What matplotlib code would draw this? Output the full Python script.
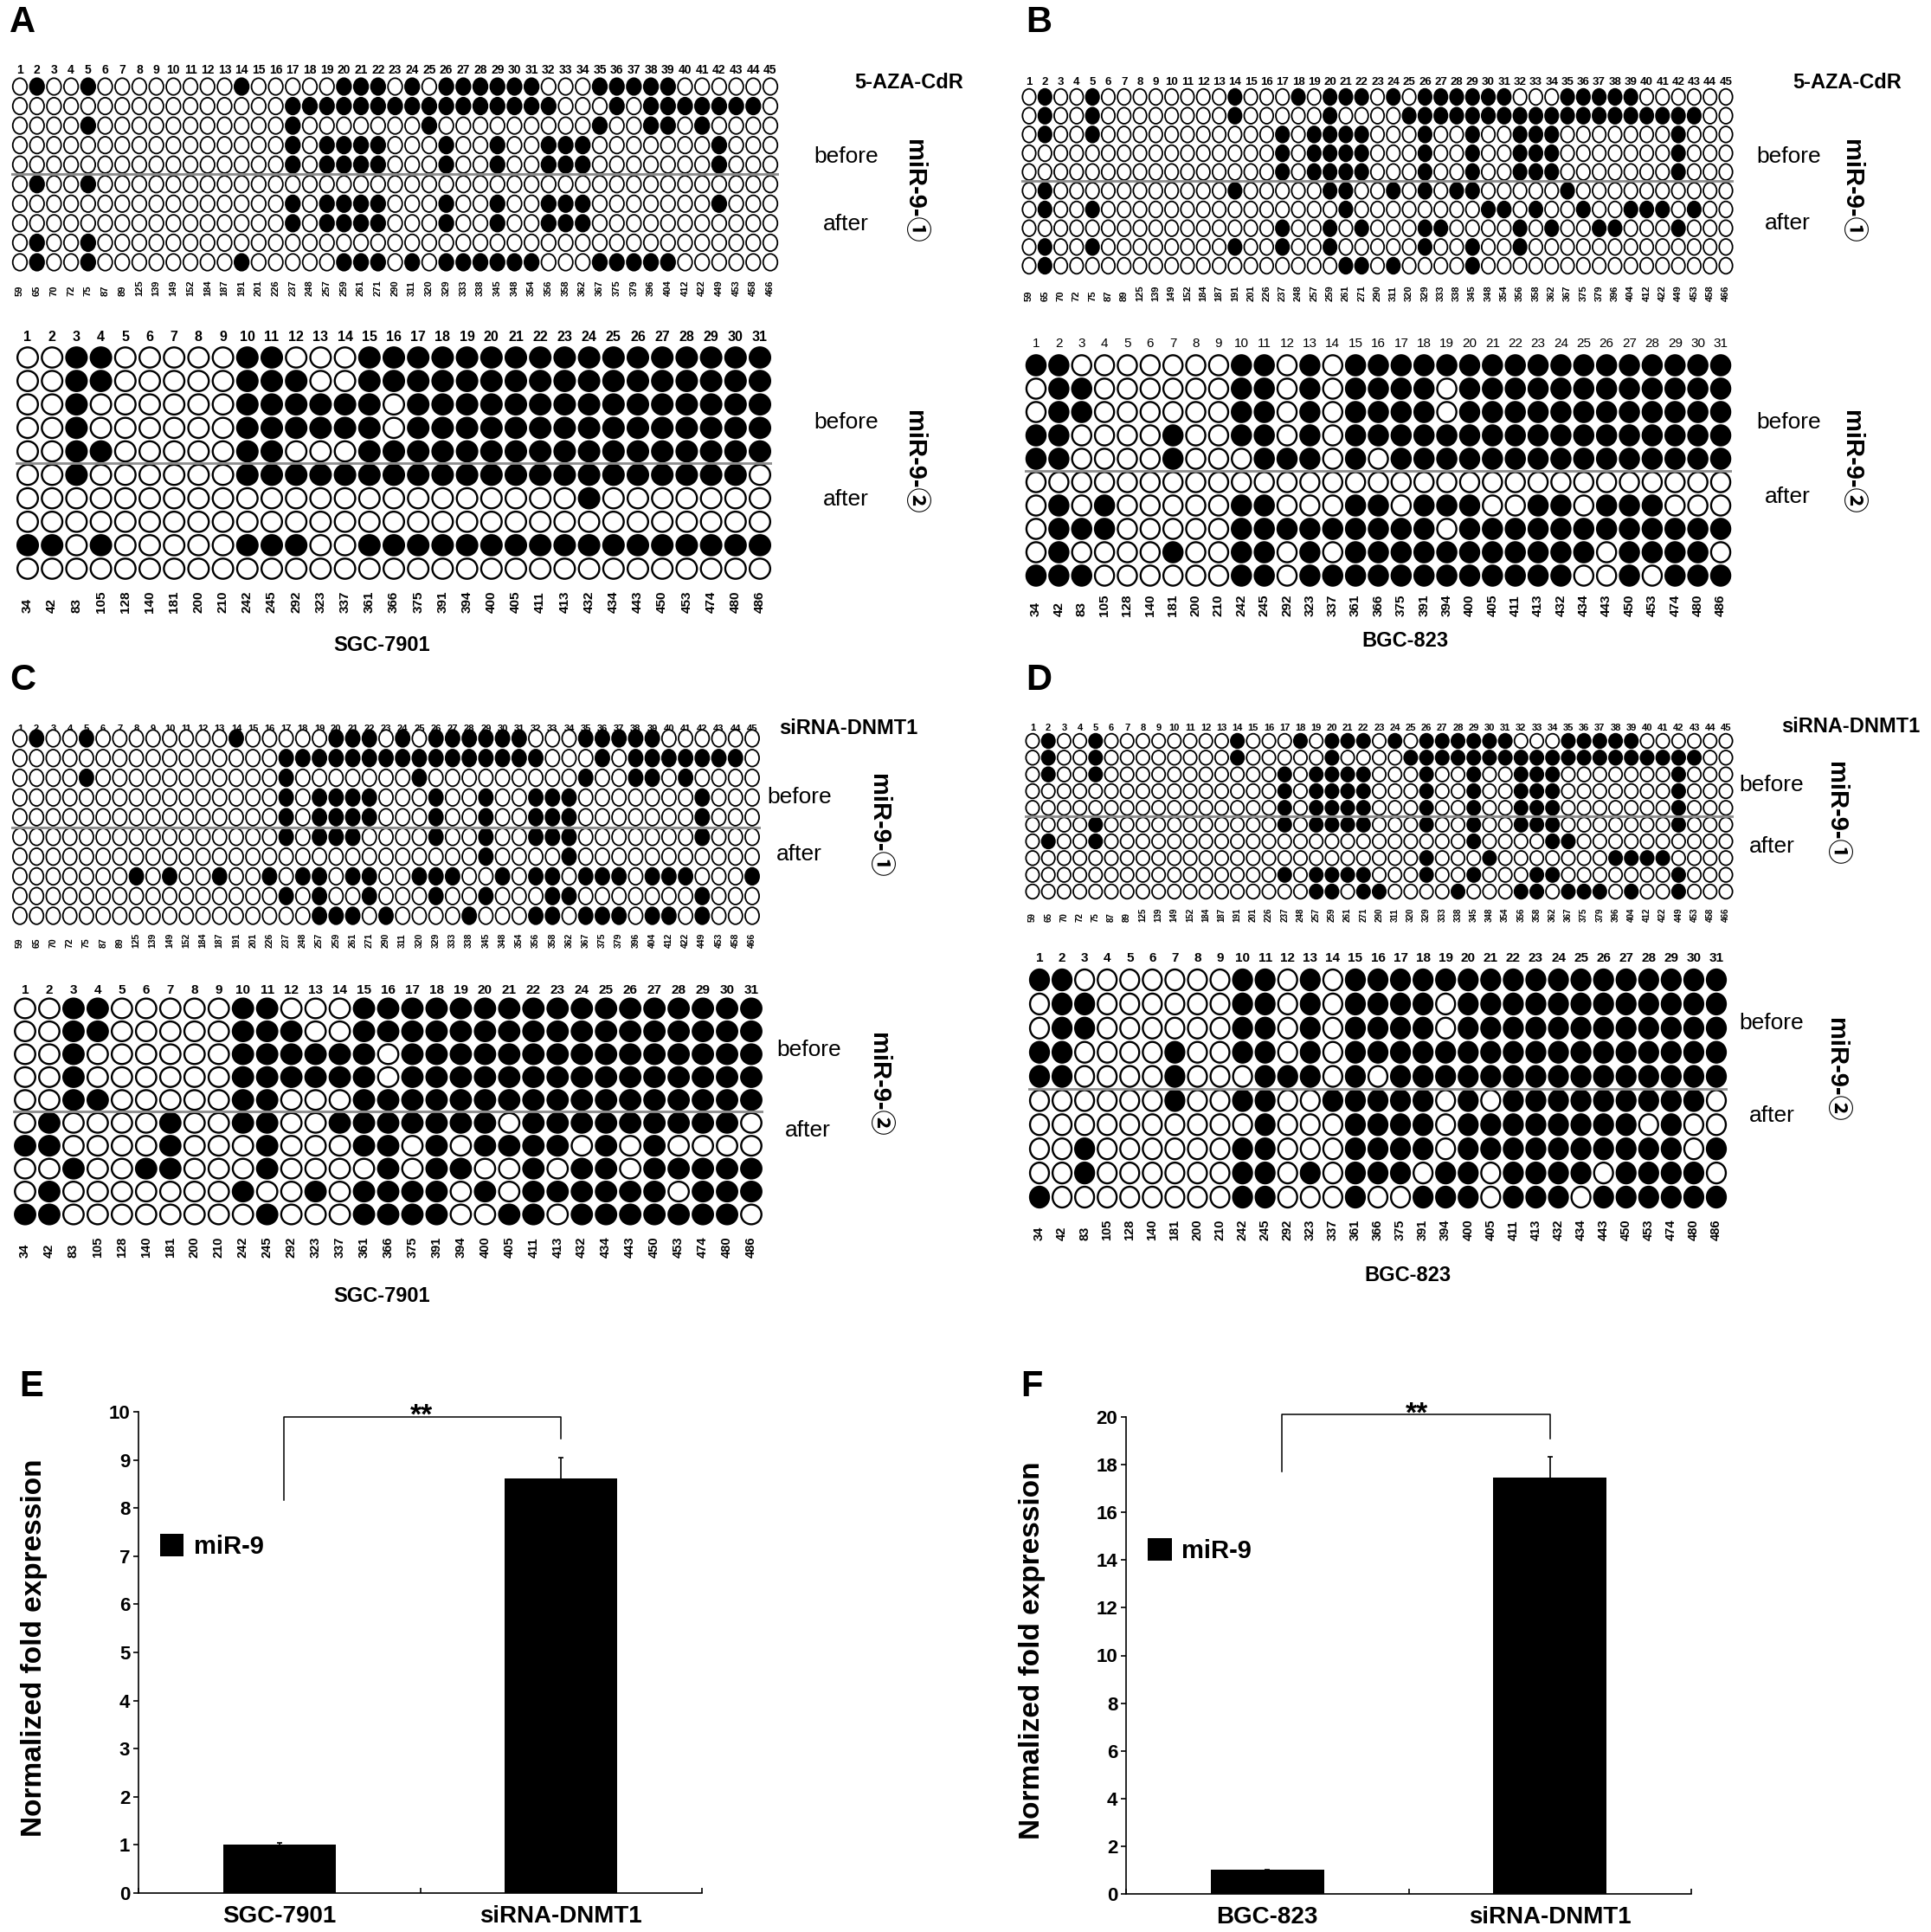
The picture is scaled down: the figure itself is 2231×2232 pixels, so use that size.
import numpy as np
import matplotlib
matplotlib.use("Agg")
import matplotlib.pyplot as plt
from matplotlib.patches import Ellipse
from matplotlib.collections import PatchCollection

plt.rcParams['font.family'] = ['Liberation Sans', 'Noto Sans CJK SC', 'DejaVu Sans']

W, H = 2231, 2232
PT = 100 / 72.0   # pixels per point at dpi 100

# CpG site positions (bottom labels of the lollipop grids)
sites_r1 = [59, 65, 70, 72, 75, 87, 89, 125, 139, 149, 152, 184, 187, 191, 201,
            226, 237, 248, 257, 259, 261, 271, 290, 311, 320, 329, 333, 338, 345,
            348, 354, 356, 358, 362, 367, 375, 379, 396, 404, 412, 422, 449, 453, 458, 466]
sites_r2 = [34, 42, 83, 105, 128, 140, 181, 200, 210, 242, 245, 292, 323, 337, 361,
            366, 375, 391, 394, 400, 405, 411, 413, 432, 434, 443, 450, 453, 474, 480, 486]

# methylated CpG sites (filled circles) per clone: clones 1-5 before, 6-10 after
a1 = ["2,5,14,20-22,24,26-31,35-39", "17-32,36,38-44", "5,17,25,35,38,39,41",
      "17,19-22,26,29,32-34,42", "17,19-22,26,29,32-34,42",
      "2,5", "17,19-22,26,29,32-34,42", "17,19-22,26,29,32-34", "2,5",
      "2,5,14,20-22,24,26-31,35-39"]
a2 = ["3,4,10,11,15-31", "3,4,10-12,15-31", "3,10-15,17-31", "3,10-15,17-31",
      "3,4,10,11,15-31",
      "3,10-30", "24", "", "1,2,4,10-12,15-31", ""]
b1 = ["2,5,14,18,20-22,24,26-31,35-39", "2,5,14,20,25-43", "2,5,17,19-22,26,29,32-34,42",
      "17,19-22,26,29,32-34,42", "17,19-22,26,29,32-34,42",
      "2,14,20,21,24,26,28,29,35", "2,5,21,30,31,33,36,39-41,43",
      "17,20,22,26,27,32,34,37,38,42", "2,5,14,17,20,26,29,32", "2,21,22,24,29"]
b2 = ["1,2,10,11,13,15-31", "2,3,10,11,13,15-18,20-31", "2,3,10,11,13,15-18,20-31",
      "1,2,7,10,11,13,15-31", "1,2,7,11-13,15,17-31",
      "", "2,4,10,11,15,16,18-20,23,24,26-28", "2-4,10-18,20-31",
      "2,7,10,11,13,15-25,27-30", "1-3,10,11,13-24,27,29-31"]
c1 = ["2,5,14,20-22,24,26-31,35-39", "17-32,36,38-44", "5,17,25,35,38,39,41",
      "17,19-22,26,29,32-34,42", "17,19-22,26,29,32-34,42",
      "17,19-21,26,29,32-34,42", "29,34",
      "8,10,13,16,18,19,21,22,25-27,30,32,33,35-37,39-41,45",
      "17,19,22,26,29,33,34,42", "19-21,23,28,32,33,35-37,39,40,42"]
c2 = ["3,4,10,11,15-31", "3,4,10-12,15-31", "3,10-15,17-31", "3,10-15,17-31",
      "3,4,10,11,15-31",
      "2,7,10,11,14-20,22-30", "1,2,7,11,15,16,18,20-23,25,27",
      "3,6,7,11,16,18,19,22,24,25,27-31", "2,10,13,15-18,20,22-27,29-31",
      "1,2,11,15-18,21,22,24-30"]
d1 = ["2,5,14,18,20-22,24,26-31,35-39", "2,5,14,20,25-43", "2,5,17,19-22,26,29,32-34,42",
      "17,19-22,26,29,32-34,42", "17,19-22,26,29,32-34,42",
      "5,17,19-22,26,29,32-34,42", "2,5,29,34,35", "26,30,38-41",
      "17,19-22,26,29,33,34,42", "19,20,22,23,28,32,33,35-37,39,42"]
d2 = ["1,2,10,11,13,15-31", "2,3,10,11,13,15-18,20-31", "2,3,10,11,13,15-18,20-31",
      "1,2,7,10,11,13,15-31", "1,2,7,11-13,15,17-31",
      "7,10,11,14-18,20,22-30", "11,15-18,20-27,29", "3,10,11,15-18,20-29,31",
      "3,10,11,13,15-17,19,20,22-25,27-30", "1,10,11,15,18-20,22-24,26-31"]

# qPCR bars
e_cats = ["SGC-7901", "siRNA-DNMT1"]
e_vals = [1.0, 8.61]
e_errs = [0.04, 0.44]
e_yticks = [0, 1, 2, 3, 4, 5, 6, 7, 8, 9, 10]
f_cats = ["BGC-823", "siRNA-DNMT1"]
f_vals = [1.0, 17.45]
f_errs = [0.03, 0.88]
f_yticks = [0, 2, 4, 6, 8, 10, 12, 14, 16, 18, 20]

fig = plt.figure(figsize=(W / 100, H / 100), dpi=100)


def px_axes(l, t, r, b):
    return fig.add_axes([l / W, 1 - b / H, (r - l) / W, (b - t) / H])


def px_text(x, y, s, **kw):
    fig.text(x / W, 1 - y / H, s, **kw)


def parse_row(spec, n):
    v = np.zeros(n, dtype=bool)
    for part in spec.split(","):
        if not part:
            continue
        if "-" in part:
            a, b = part.split("-")
            v[int(a) - 1:int(b)] = True
        else:
            v[int(part) - 1] = True
    return v


def draw_grid(rows, sites, x1, xn, y1, yn, num_y, lab_bot, num_fs, num_wt, lab_fs, lw):
    n, m = len(sites), len(rows)
    sx = (xn - x1) / (n - 1)
    sy = (yn - y1) / (m - 1)
    top, bot = y1 - sy / 2, yn + sy / 2
    ax = px_axes(x1 - sx / 2, top, xn + sx / 2, bot)
    ax.set_xlim(0.5, n + 0.5)
    ax.set_ylim(m + 0.5, 0.5)
    for s in ax.spines.values():
        s.set_visible(False)
    ells, fcs = [], []
    for r, spec in enumerate(rows):
        meth = parse_row(spec, n)
        for c in range(n):
            ells.append(Ellipse((c + 1, r + 1), 0.84, 0.86))
            fcs.append("black" if meth[c] else "white")
    ax.add_collection(PatchCollection(ells, facecolors=fcs, edgecolors="black",
                                      linewidths=lw))
    ax.axhline(5.5, color="#8c8c8c", lw=2.0)
    ax.set_yticks([])
    ax.set_xticks(range(1, n + 1), [str(s) for s in sites], rotation=90,
                  fontsize=lab_fs, fontweight="bold", va="bottom")
    ax.tick_params(axis="x", length=0, pad=(lab_bot - bot) / PT)
    sec = ax.secondary_xaxis("top")
    sec.set_ticks(range(1, n + 1), [str(i) for i in range(1, n + 1)],
                  fontsize=num_fs, fontweight=num_wt)
    sec.tick_params(length=0, pad=(top - num_y - 0.57 * num_fs * PT) / PT)
    for s in sec.spines.values():
        s.set_visible(False)
    return ax


letter = dict(fontsize=30, fontweight="bold", ha="center", va="center")
side = dict(fontsize=19, ha="center", va="center")
mir = dict(fontsize=21, fontweight="bold", rotation=-90, ha="center", va="center")
cell = dict(fontsize=17, fontweight="bold", ha="center", va="center")
treat = dict(fontsize=17, fontweight="bold", va="center")

# panel A
draw_grid(a1, sites_r1, 23, 890, 100, 303, 80, 342, 10, "bold", 8, 1.3)
draw_grid(a2, sites_r2, 32, 878, 413, 657, 388, 708, 11.5, "bold", 11, 1.7)
px_text(26, 26, "A", **letter)
px_text(1113, 95, "5-AZA-CdR", ha="right", **treat)
px_text(978, 181, "before", **side)
px_text(977, 259, "after", **side)
px_text(1056, 221, "miR-9-\u2460", **mir)
px_text(978, 488, "before", **side)
px_text(977, 577, "after", **side)
px_text(1056, 534, "miR-9-\u2461", **mir)
px_text(441, 745, "SGC-7901", **cell)

# panel B
draw_grid(b1, sites_r1, 1189, 1994, 112, 307, 93, 348, 9.5, "bold", 8, 1.3)
draw_grid(b2, sites_r2, 1197, 1988, 422, 665, 395, 712, 11, "normal", 11, 1.7)
px_text(1200, 26, "B", **letter)
px_text(2197, 95, "5-AZA-CdR", ha="right", **treat)
px_text(2067, 181, "before", **side)
px_text(2065, 258, "after", **side)
px_text(2139, 221, "miR-9-\u2460", **mir)
px_text(2067, 488, "before", **side)
px_text(2065, 574, "after", **side)
px_text(2139, 534, "miR-9-\u2461", **mir)
px_text(1623, 740, "BGC-823", **cell)

# panel C
draw_grid(c1, sites_r1, 23, 869, 853, 1058, 841, 1095, 8, "bold", 7.5, 1.3)
draw_grid(c2, sites_r2, 29, 868, 1165, 1403, 1142, 1453, 11, "bold", 10.5, 1.7)
px_text(26, 786, "C", **letter)
px_text(900, 841, "siRNA-DNMT1", ha="left", **treat)
px_text(924, 921, "before", **side)
px_text(923, 987, "after", **side)
px_text(1015, 954, "miR-9-\u2460", **mir)
px_text(935, 1213, "before", **side)
px_text(933, 1306, "after", **side)
px_text(1015, 1253, "miR-9-\u2461", **mir)
px_text(441, 1498, "SGC-7901", **cell)

# panel D
draw_grid(d1, sites_r1, 1193, 1994, 856, 1030, 840, 1065, 8, "bold", 7, 1.3)
draw_grid(d2, sites_r2, 1201, 1983, 1132, 1383, 1105, 1433, 11, "bold", 10.5, 1.7)
px_text(1200, 786, "D", **letter)
px_text(2218, 840, "siRNA-DNMT1", ha="right", **treat)
px_text(2047, 907, "before", **side)
px_text(2047, 978, "after", **side)
px_text(2121, 940, "miR-9-\u2460", **mir)
px_text(2047, 1182, "before", **side)
px_text(2047, 1289, "after", **side)
px_text(2121, 1236, "miR-9-\u2461", **mir)
px_text(1626, 1474, "BGC-823", **cell)


def bar_panel(box, cats, vals, errs, yticks, brk_x, brk_y, star, ylab_x):
    ax = px_axes(*box)
    ax.bar([0.5, 1.5], vals, width=0.4, color="black", yerr=errs, label="miR-9",
           error_kw=dict(ecolor="black", elinewidth=1.2, capsize=2.5, capthick=1.2))
    ax.set_xlim(0, 2)
    ax.set_ylim(yticks[0], yticks[-1])
    ax.spines[["top", "right"]].set_visible(False)
    ax.spines[["left", "bottom"]].set_linewidth(1.2)
    ax.set_yticks(yticks, [str(t) for t in yticks], fontsize=16, fontweight="bold")
    ax.tick_params(axis="y", direction="out", length=4, width=1.2, pad=3)
    ax.set_xticks([0, 1, 2], ["", "", ""])
    ax.tick_params(axis="x", which="major", direction="in", length=4, width=1.2)
    ax.set_xticks([0.5, 1.5], cats, minor=True, fontsize=20, fontweight="bold")
    ax.tick_params(axis="x", which="minor", length=0, pad=10)
    ax.plot(brk_x, brk_y, color="black", lw=1.1, clip_on=False)
    ax.text(star[0], star[1], "**", ha="center", va="baseline", fontsize=24,
            fontweight="bold")
    ax.set_ylabel("Normalized fold expression", fontsize=24, fontweight="bold")
    ax.yaxis.set_label_coords(ylab_x, 0.51)
    ax.legend(loc="center left", bbox_to_anchor=(0.038, 0.72), frameon=False,
              prop=dict(size=21, weight="bold"), handlelength=0.95, handleheight=1.0,
              handletextpad=0.4, borderpad=0, borderaxespad=0)
    return ax


bar_panel((160, 1631, 811, 2187), e_cats, e_vals, e_errs, e_yticks,
          [0.515, 0.515, 1.5, 1.5], [8.17, 9.89, 9.89, 9.45], (1.005, 9.75), -0.161)
px_text(36, 1602, "E", **letter)

bar_panel((1301, 1637, 1954, 2188), f_cats, f_vals, f_errs, f_yticks,
          [0.551, 0.551, 1.5, 1.5], [17.7, 20.1, 20.1, 19.1], (1.03, 19.8), -0.142)
px_text(1192, 1602, "F", **letter)

fig.savefig("out.png", dpi=100)
